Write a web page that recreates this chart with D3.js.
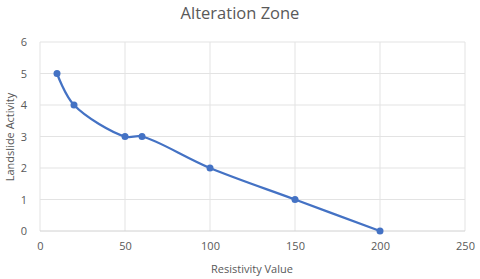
<!doctype html>
<html>
<head>
<script src="https://cdnjs.cloudflare.com/ajax/libs/d3/7.8.5/d3.min.js"></script>
<style>
  body { margin: 0; background: #fff; }
  text { font-family: "Open Sans", "Noto Sans", sans-serif; fill: #595959; }
</style>
</head>
<body>
<script>
// chart values
var resistivity = [10, 20, 50, 60, 100, 150, 200];
var activity = [5, 4, 3, 3, 2, 1, 0];
var xTicks = [0, 50, 100, 150, 200, 250];
var yTicks = [0, 1, 2, 3, 4, 5, 6];

var width = 480, height = 279;
var margin = {top: 42, right: 15, bottom: 48, left: 40};

var svg = d3.select("body").append("svg")
    .attr("width", width)
    .attr("height", height);

var x = d3.scaleLinear().domain([0, 250]).range([margin.left, width - margin.right]);
var y = d3.scaleLinear().domain([0, 6]).range([height - margin.bottom, margin.top]);

// gridlines
svg.append("g").selectAll("line.h")
    .data(yTicks.filter(function(d) { return d > 0; }))
    .enter().append("line")
    .attr("x1", x(0)).attr("x2", x(250))
    .attr("y1", function(d) { return y(d); })
    .attr("y2", function(d) { return y(d); })
    .attr("stroke", "#e3e3e3").attr("stroke-width", 1);

svg.append("g").selectAll("line.v")
    .data(xTicks)
    .enter().append("line")
    .attr("y1", y(0)).attr("y2", y(6))
    .attr("x1", function(d) { return x(d); })
    .attr("x2", function(d) { return x(d); })
    .attr("stroke", "#e3e3e3").attr("stroke-width", 1);

// bottom axis line
svg.append("line")
    .attr("x1", x(0)).attr("x2", x(250))
    .attr("y1", y(0)).attr("y2", y(0))
    .attr("stroke", "#d0d0d0");

// tick labels
var xAxis = svg.append("g")
    .attr("transform", "translate(0," + y(0) + ")")
    .call(d3.axisBottom(x).tickValues(xTicks).tickSize(0).tickPadding(11));
xAxis.select(".domain").remove();
xAxis.selectAll("text").style("font-size", "11px").attr("fill", "#595959");

var yAxis = svg.append("g")
    .attr("transform", "translate(" + (x(0) - 13) + ",0)")
    .call(d3.axisLeft(y).tickValues(yTicks).tickFormat(d3.format("d")).tickSize(0).tickPadding(0));
yAxis.select(".domain").remove();
yAxis.selectAll("text").style("font-size", "11px").attr("fill", "#595959");

// title and axis titles
svg.append("text")
    .attr("x", 240).attr("y", 19)
    .attr("text-anchor", "middle")
    .style("font-size", "16.5px")
    .text("Alteration Zone");

svg.append("text")
    .attr("x", 252).attr("y", 273)
    .attr("text-anchor", "middle")
    .style("font-size", "11px")
    .text("Resistivity Value");

svg.append("text")
    .attr("transform", "translate(14,137) rotate(-90)")
    .attr("text-anchor", "middle")
    .style("font-size", "11px")
    .text("Landslide Activity");

// smoothed line (excel-style)
var points = resistivity.map(function(r, i) { return [r, activity[i]]; });
var line = d3.line()
    .x(function(d) { return x(d[0]); })
    .y(function(d) { return y(d[1]); })
    .curve(d3.curveCatmullRom.alpha(0.5));

svg.append("path")
    .datum(points)
    .attr("d", line)
    .attr("fill", "none")
    .attr("stroke", "#4472C4")
    .attr("stroke-width", 2.25);

svg.selectAll("circle")
    .data(points)
    .enter().append("circle")
    .attr("cx", function(d) { return x(d[0]); })
    .attr("cy", function(d) { return y(d[1]); })
    .attr("r", 3.5)
    .attr("fill", "#4472C4");
</script>
</body>
</html>
